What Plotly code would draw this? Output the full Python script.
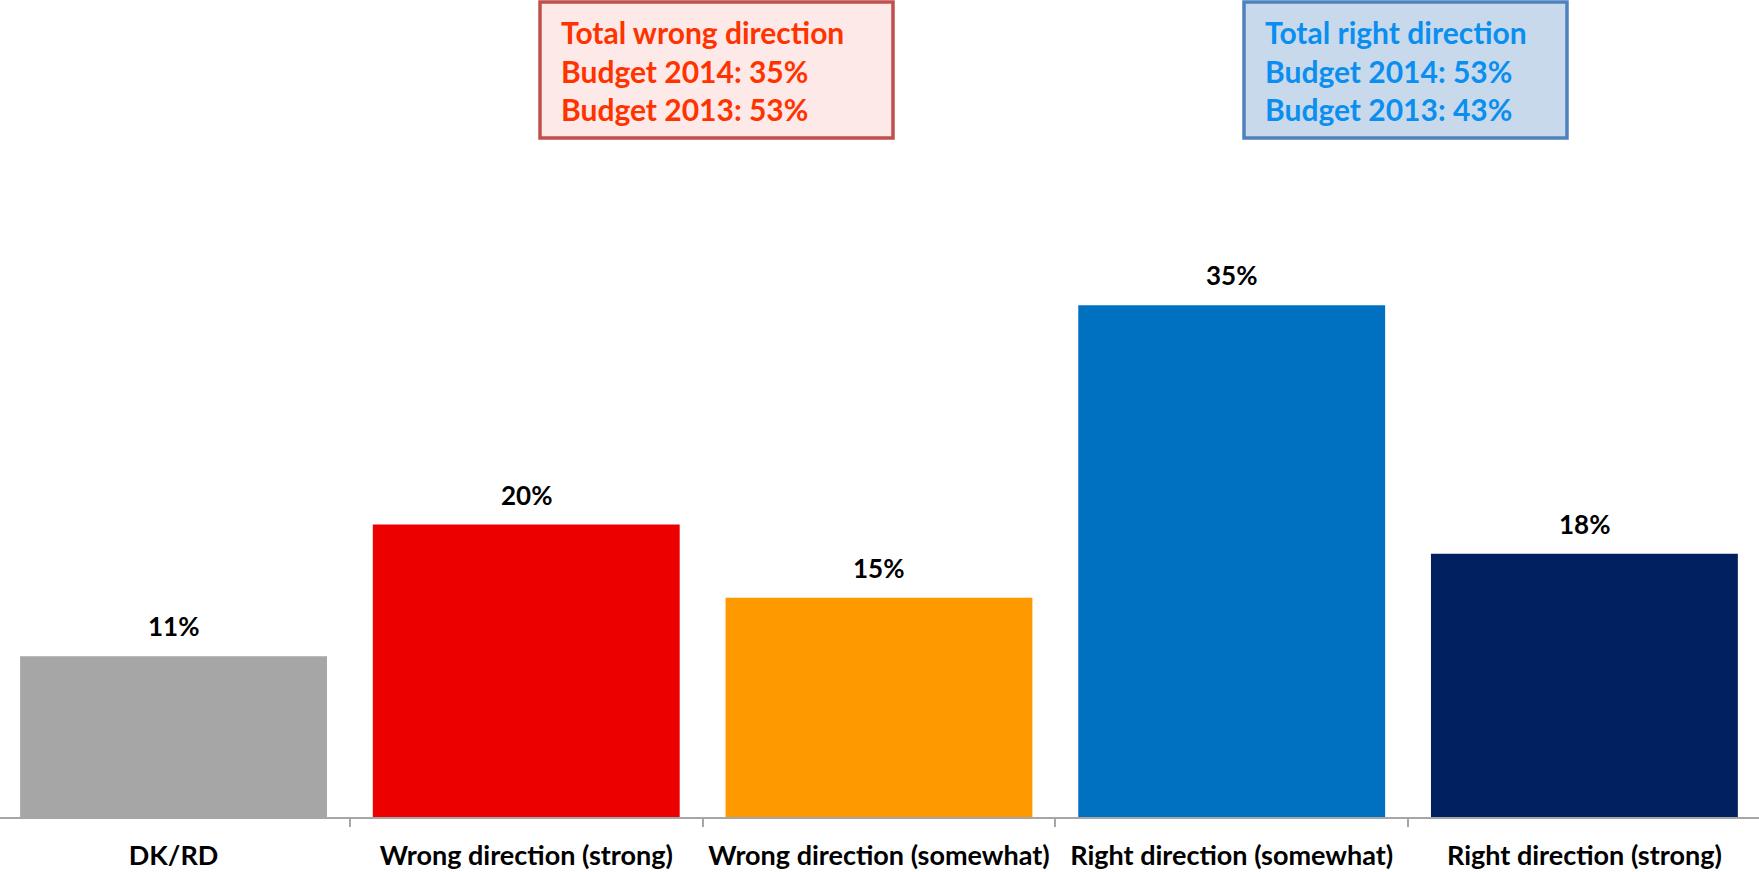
import plotly.graph_objects as go

categories = ["DK/RD", "Wrong direction (strong)", "Wrong direction (somewhat)",
              "Right direction (somewhat)", "Right direction (strong)"]
values = [11, 20, 15, 35, 18]
bar_colors = ["#a6a6a6", "#ec0000", "#ff9900", "#0070c0", "#002060"]
value_labels = ["11%", "20%", "15%", "35%", "18%"]

wrong_box_lines = ["Total wrong direction", "Budget 2014: 35%", "Budget 2013: 53%"]
right_box_lines = ["Total right direction", "Budget 2014: 53%", "Budget 2013: 43%"]

W, H = 1759, 872
plot_h = 817

fig = go.Figure()
fig.add_trace(go.Bar(
    x=categories, y=values, marker=dict(color=bar_colors, line=dict(width=0)),
    width=0.87, showlegend=False, hoverinfo="skip"))

for c, v, t in zip(categories, values, value_labels):
    fig.add_annotation(x=c, y=v, xref="x", yref="y", text=t, showarrow=False,
                       yanchor="bottom", yshift=12,
                       font=dict(family="Lato", size=26, color="#000000", weight="bold"))

def py(px):
    return 1 - px / plot_h

def add_box(x0, x1, y0, y1, fill, border, tcolor, lines, tx):
    fig.add_shape(type="rect", xref="paper", yref="paper",
                  x0=x0 / W, x1=x1 / W, y0=py(y1), y1=py(y0),
                  fillcolor=fill, line=dict(color=border, width=3.5), layer="above")
    for i, ln in enumerate(lines):
        fig.add_annotation(xref="paper", yref="paper", x=tx / W, y=py(32.5 + 38.3 * i),
                           text=ln, showarrow=False, xanchor="left", yanchor="middle",
                           font=dict(family="Lato", size=30, color=tcolor, weight="bold"))

add_box(540, 893, 2, 138, "#fde9e7", "#c0504d", "#ff3300", wrong_box_lines, 559)
add_box(1244, 1567, 2, 138, "#c9d9ec", "#4f81bd", "#0a8ff0", right_box_lines, 1263)

fig.update_layout(
    width=W, height=H, margin=dict(l=0, r=0, t=0, b=H - plot_h),
    plot_bgcolor="white", paper_bgcolor="white", bargap=0.13,
    xaxis=dict(range=[-0.492, 4.495], showline=True, linecolor="#a6a6a6", linewidth=2,
               ticks="outside", tickson="boundaries", ticklen=8, tickwidth=2,
               tickcolor="#a6a6a6", showgrid=False, zeroline=False,
               ticklabelstandoff=14,
               tickfont=dict(family="Lato", size=27, color="#000000", weight="bold")),
    yaxis=dict(range=[0, plot_h / 14.62], visible=False, showgrid=False, zeroline=False),
)

fig.write_html("out.html", config={"displayModeBar": False},
               post_script="document.body.style.margin='0';document.body.style.overflow='hidden';")
